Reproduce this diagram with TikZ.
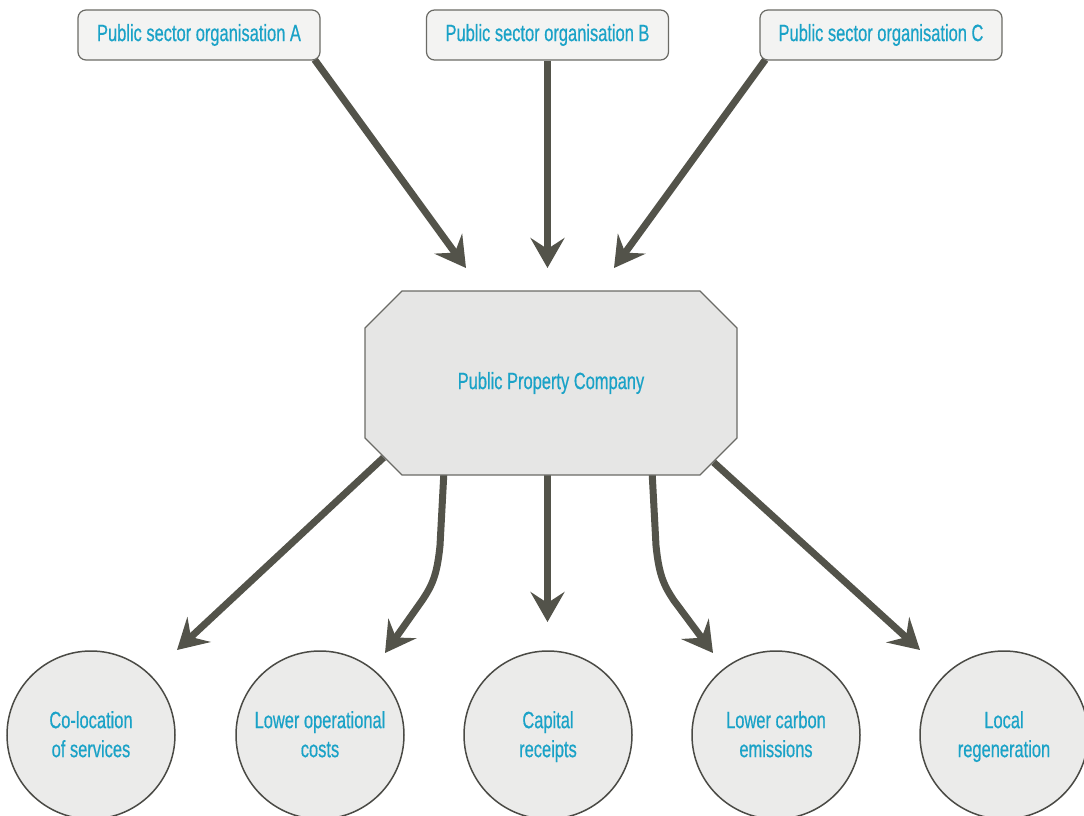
\documentclass[tikz,border=0pt]{standalone}
\usepackage{fontspec}
\setmainfont{Liberation Sans}[FakeStretch=0.7, FakeBold=0.5]
\usetikzlibrary{arrows.meta,shapes.misc,backgrounds}
\definecolor{arrowgrey}{HTML}{53534A}
\definecolor{textblue}{HTML}{1AA2C7}
\definecolor{orgfill}{HTML}{F3F3F2}
\definecolor{orgline}{HTML}{6B6B66}
\definecolor{ppcfill}{HTML}{E6E6E5}
\definecolor{benefitfill}{HTML}{EBEBEA}
\definecolor{benefitline}{HTML}{4A4A45}
\tikzset{
  orgbox/.style={draw=orgline, fill=orgfill, rounded corners=8pt, line width=1.2pt,
    minimum width=242pt, minimum height=50pt, text=textblue, font=\fontsize{23.5}{28}\selectfont},
  ppcbox/.style={draw=orgline, fill=ppcfill, line width=1.2pt, chamfered rectangle,
    chamfered rectangle xsep=25pt, chamfered rectangle ysep=26pt,
    minimum width=372pt, minimum height=184pt, inner sep=0pt, text=textblue,
    font=\fontsize{23.5}{28}\selectfont},
  benefit/.style={circle, draw=benefitline, fill=benefitfill, line width=1.5pt,
    minimum size=168pt, inner sep=0pt, align=center, text=textblue,
    font=\fontsize{23.5}{29}\selectfont},
  flow/.style={draw=arrowgrey, line width=7pt,
    -{Stealth[length=30pt, width=34pt, inset=11pt]}},
}
\begin{document}
\begin{tikzpicture}[x=1pt, y=-1pt]
  \useasboundingbox (0,0) rectangle (1084,816);
  % organisations
  \node[orgbox] (orgA) at (199,35) {Public sector organisation A};
  \node[orgbox] (orgB) at (547.5,35) {Public sector organisation B};
  \node[orgbox] (orgC) at (881,35) {Public sector organisation C};
  % company
  \node[ppcbox] (ppc) at (551,383) {Public Property Company};
  % benefits
  \node[benefit] (colo) at (91,735) {\rule{0pt}{24pt}Co-location\\of services\strut};
  \node[benefit] (opcost) at (320,735) {\rule{0pt}{24pt}Lower operational\\costs\strut};
  \node[benefit] (capital) at (548,735) {\rule{0pt}{24pt}Capital\\receipts\strut};
  \node[benefit] (carbon) at (776,735) {\rule{0pt}{24pt}Lower carbon\\emissions\strut};
  \node[benefit] (regen) at (1004,735) {\rule{0pt}{24pt}Local\\regeneration\strut};
  % arrow tips
  \coordinate (inA) at (466,268);
  \coordinate (inB) at (547.5,268);
  \coordinate (inC) at (614,268);
  \coordinate (toColo) at (177,650);
  \coordinate (toOpcost) at (385,653);
  \coordinate (toCapital) at (547.5,622);
  \coordinate (toCarbon) at (713,653);
  \coordinate (toRegen) at (920,650);
  \begin{scope}[on background layer]
    \draw[flow] (orgA.south east) ++(-6,-1) -- (inA);
    \draw[flow] (orgB.south) -- (inB);
    \draw[flow] (orgC.south west) ++(6,-1) -- (inC);
    \draw[flow] (ppc.204) -- (toColo);
    \draw[flow] (ppc.south) ++(-107,-5) -- ++(-4,75) .. controls +(-3,30) and +(10,-15) .. ++(-18,55) -- (toOpcost);
    \draw[flow] (ppc.south) ++(-3.5,-2) -- (toCapital);
    \draw[flow] (ppc.south) ++(101,-5) -- ++(4,75) .. controls +(3,30) and +(-10,-15) .. ++(18,55) -- (toCarbon);
    \draw[flow] (ppc.334) -- (toRegen);
  \end{scope}
\end{tikzpicture}
\end{document}
